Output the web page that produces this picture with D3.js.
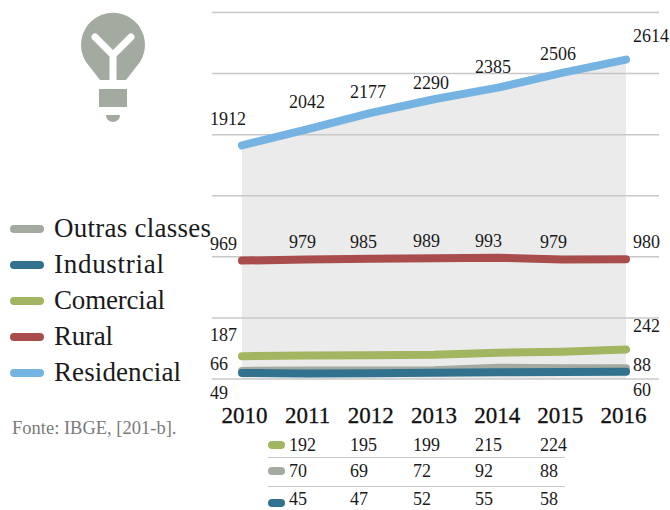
<!DOCTYPE html>
<html>
<head>
<meta charset="utf-8">
<script src="https://cdn.jsdelivr.net/npm/d3@7"></script>
<style>
  html, body { margin: 0; padding: 0; background: #fff; }
  text { font-family: "Liberation Serif", serif; fill: #1a1a1a; }
</style>
</head>
<body>
<div id="chart"></div>
<script>
// ******* Data *******
var years = ["2010", "2011", "2012", "2013", "2014", "2015", "2016"];
var residencial = [1912, 2042, 2177, 2290, 2385, 2506, 2614];
var rural = [969, 979, 985, 989, 993, 979, 980];
var comercial = [187, 192, 195, 199, 215, 224, 242];
var outras = [66, 70, 69, 72, 92, 88, 88];
var industrial = [49, 45, 47, 52, 55, 58, 60];
var gridTicks = [0, 500, 1000, 1500, 2000, 2500, 3000];
var legendKeys = ["Outras classes", "Industrial", "Comercial", "Rural", "Residencial"];
var tableYears = ["2011", "2012", "2013", "2014", "2015"];

// ******* Colours and label nudges *******
var colBlue = "#74b3e2", colRed = "#a94d4c", colGreen = "#a2b560", colGray = "#a3aaa0", colTeal = "#33728e";
var legendColours = [colGray, colTeal, colGreen, colRed, colBlue];
var legendWidths = [157, 110, 111, 59, 127];
var labelDx = [-32, -17, -20, -21, -23, -22, 7]; // left edge of number, relative to its year
var residencialDy = [-20, -22, -15, -10, -15, -13, -18];

// ******* Scales *******
var w = 670, h = 510;
var x = d3.scalePoint().domain(years).range([242, 626]);
var xAxisScale = x.copy().range([244, 623]); // year labels sit a little tighter than the points
var y = d3.scaleLinear().domain([0, 3000]).range([379, 12.5]);
var svg = d3.select("#chart").append("svg").attr("width", w).attr("height", h).style("display", "block");

// ******* Area under the top line *******
var area = d3.area().x((d, i) => x(years[i])).y0(y(0)).y1(d => y(d));
svg.append("path").attr("d", area(residencial)).attr("fill", "#ebebeb");

// ******* Grid *******
svg.selectAll(".grid").data(gridTicks).enter().append("line")
  .attr("class", "grid")
  .attr("x1", 212).attr("x2", 659)
  .attr("y1", d => y(d)).attr("y2", d => y(d))
  .attr("stroke", "#c8c8c8").attr("stroke-width", 1.5);

// ******* Lines *******
var line = d3.line().x((d, i) => x(years[i])).y(d => y(d));
[[residencial, colBlue], [rural, colRed], [comercial, colGreen], [outras, colGray], [industrial, colTeal]].forEach(s => {
  svg.append("path").attr("d", line(s[0]))
    .attr("fill", "none").attr("stroke", s[1])
    .attr("stroke-width", 8).attr("stroke-linecap", "round").attr("stroke-linejoin", "round");
});

// ******* Value labels *******
function numbers(values, dyFn) {
  svg.append("g").selectAll("text").data(values).enter().append("text")
    .attr("x", (d, i) => x(years[i]) + labelDx[i])
    .attr("y", (d, i) => y(d) + dyFn(i))
    .attr("font-size", 18)
    .text(d => d);
}
numbers(residencial, i => residencialDy[i]);
numbers(rural, i => -11);

// the low series only get numbers at both ends, the rest sit in the table below
function endNumbers(values, dyLeft, dyRight) {
  [0, 6].forEach(i => {
    svg.append("text")
      .attr("x", x(years[i]) + labelDx[i])
      .attr("y", y(values[i]) + (i === 0 ? dyLeft : dyRight))
      .attr("font-size", 18)
      .text(values[i]);
  });
}
endNumbers(comercial, -15, -17);
endNumbers(outras, -1, 3);
endNumbers(industrial, 26, 24);

// ******* Year axis *******
svg.append("g").attr("transform", "translate(0,407)")
  .call(d3.axisBottom(xAxisScale).tickSize(0).tickPadding(0))
  .call(g => g.select(".domain").remove())
  .selectAll("text")
  .attr("dy", "0.7em")
  .style("font-family", "'Liberation Serif', serif")
  .style("font-size", "23px")
  .style("fill", "#111")
  .style("stroke", "#111")
  .style("stroke-width", 0.3);

// ******* Table under the axis *******
var tableRows = [[comercial, colGreen, 445], [outras, colGray, 471], [industrial, colTeal, 503]];
tableRows.forEach(r => {
  svg.append("line").attr("x1", 272).attr("x2", 281).attr("y1", r[2]).attr("y2", r[2])
    .attr("stroke", r[1]).attr("stroke-width", 8).attr("stroke-linecap", "round");
  tableYears.forEach(yr => {
    var i = years.indexOf(yr);
    svg.append("text")
      .attr("x", x(yr) + labelDx[i])
      .attr("y", Math.min(r[2] + 6, 505)) // last row stays inside the window
      .attr("font-size", 18)
      .text(r[0][i]);
  });
});
[457.5, 486.5].forEach(yy => {
  svg.append("line").attr("x1", 268).attr("x2", 565).attr("y1", yy).attr("y2", yy)
    .attr("stroke", "#c8c8c8").attr("stroke-width", 1);
});

// ******* Legend *******
var legend = d3.scalePoint().domain(legendKeys).range([229, 373]);
svg.selectAll(".key").data(legendKeys).enter().append("line")
  .attr("class", "key")
  .attr("x1", 14).attr("x2", 40)
  .attr("y1", d => legend(d)).attr("y2", d => legend(d))
  .attr("stroke", (d, i) => legendColours[i])
  .attr("stroke-width", 8).attr("stroke-linecap", "round");
svg.selectAll(".keylabel").data(legendKeys).enter().append("text")
  .attr("class", "keylabel")
  .attr("x", 54)
  .attr("y", d => legend(d) + 8)
  .attr("font-size", 27)
  .attr("textLength", (d, i) => legendWidths[i])
  .text(d => d);

svg.append("text").attr("x", 12).attr("y", 434)
  .attr("font-size", 18.5).style("fill", "#7a7a7a")
  .text("Fonte: IBGE, [201-b].");

// ******* Lamp icon *******
var lamp = svg.append("g").attr("fill", colGray);
lamp.append("path").attr("d", "M100,80 L86,62 A32,32 0 1 1 140,62 L126,80 Z");
lamp.append("path").attr("d", "M95,37 L113,55 L131,37 M113,55 L113,81")
  .attr("fill", "none").attr("stroke", "#fff").attr("stroke-width", 7)
  .attr("stroke-linecap", "round").attr("stroke-linejoin", "miter");
lamp.append("rect").attr("x", 99).attr("y", 89).attr("width", 28).attr("height", 18);
lamp.append("path").attr("d", "M106,115 L120,115 A7,7 0 0 1 106,115 Z");
</script>
</body>
</html>
